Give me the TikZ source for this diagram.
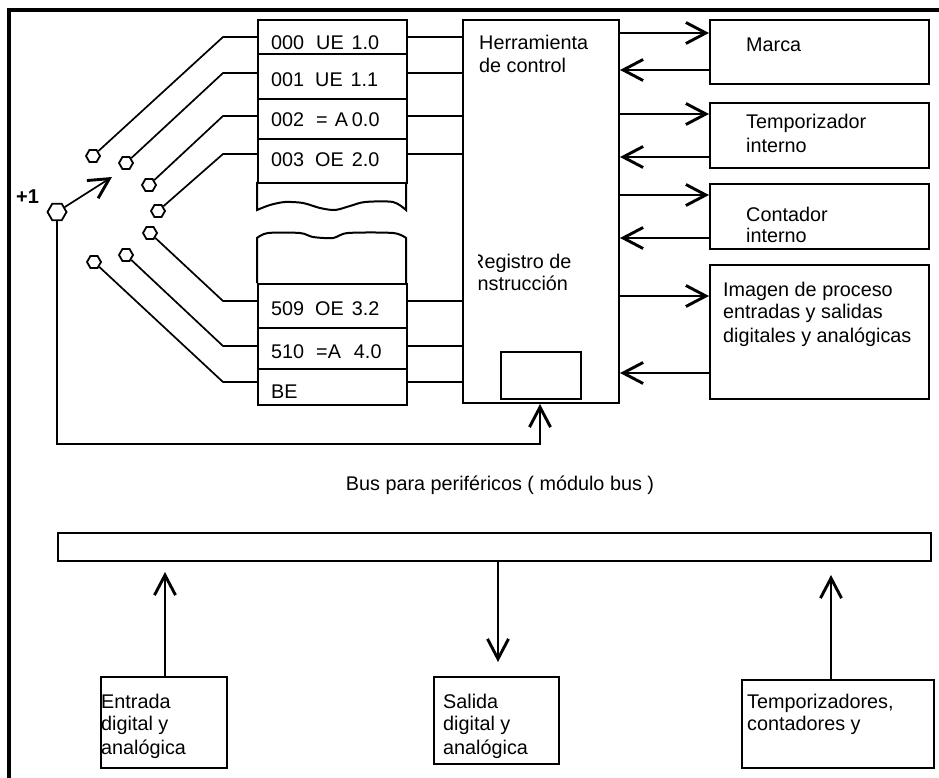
\documentclass[tikz,border=0pt]{standalone}
\usepackage{fontspec}
\setmainfont{Liberation Sans}
\usetikzlibrary{arrows.meta,shapes.geometric}
\tikzset{
  box/.style={draw, line width=2pt, rectangle, inner sep=0pt, anchor=north west},
  wire/.style={line width=1.7pt},
  barb/.style={-{Straight Barb[length=20pt,width=21pt,line width=2.9pt]}},
  txt/.style={anchor=base west, inner sep=0pt, font=\fontsize{19.8}{23}\selectfont},
  contact/.style={draw, line width=1.8pt, regular polygon, regular polygon sides=6, minimum size=14pt, inner sep=0pt, fill=white},
}
\begin{document}
\begin{tikzpicture}[x=1pt,y=-1pt]
\useasboundingbox (0,0) rectangle (939,778);
% frame
\draw[line width=3.5pt] (9,778) -- (9,10) -- (939,10);
% memory rows
\node[box, minimum width=149pt, minimum height=34pt] (r0) at (257,19) {};
\node[box, minimum width=149pt, minimum height=45pt] (r1) at (257,53) {};
\node[box, minimum width=149pt, minimum height=40pt] (r2) at (257,98) {};
\node[box, minimum width=149pt, minimum height=44pt] (r3) at (257,138) {};
\node[box, minimum width=149pt, minimum height=44pt] (r509) at (257,283) {};
\node[box, minimum width=149pt, minimum height=41pt] (r510) at (257,327) {};
\node[box, minimum width=149pt, minimum height=36pt] (rBE) at (257,368) {};
\draw[line width=2pt] (257,182) -- plot[smooth] coordinates {(257,210) (270,205) (285,202) (303,203) (320,208) (335,210) (350,206) (365,202) (393,202) (406,210)} -- (406,182);
\draw[line width=2pt] (257,283) -- plot[smooth] coordinates {(257,238) (268,233) (300,233) (313,237) (333,238) (348,233) (393,233) (406,238)} -- (406,283);
% row texts
\node[txt] (t0) at (271,50) {000\hspace{12pt}UE\hspace{8pt}1.0};
\node[txt] (t1) at (271,87) {001\hspace{11pt}UE\hspace{8pt}1.1};
\node[txt] (t2) at (271,127) {002\hspace{12pt}=\hspace{7pt}A\hspace{4pt}0.0};
\node[txt] (t3) at (271,167) {003\hspace{11pt}OE\hspace{8pt}2.0};
\node[txt] (t509) at (271,315) {509\hspace{11pt}OE\hspace{8pt}3.2};
\node[txt] (t510) at (271,358) {510\hspace{12pt}=A\hspace{13pt}4.0};
\node[txt] (tBE) at (271,398) {BE};
% control unit
\node[box, minimum width=156pt, minimum height=383pt] (cpu) at (462,19) {};
\node[box, minimum width=80pt, minimum height=47pt] (reg) at (500,351) {};
\node[txt] (th1) at (479,50) {Herramienta};
\node[txt] (th2) at (479,73) {de control};
\begin{scope}
\clip (478,240) rectangle (617,300);
\node[txt] (tr1) at (470,268) {Registro de};
\node[txt] (tr2) at (472,290) {Instrucción};
\end{scope}
% right boxes
\node[box, minimum width=219pt, minimum height=64pt] (marca) at (709,19) {};
\node[box, minimum width=219pt, minimum height=65pt] (temp) at (709,102) {};
\node[box, minimum width=219pt, minimum height=65pt] (cont) at (709,183) {};
\node[box, minimum width=219pt, minimum height=134pt] (img) at (709,264) {};
\node[txt] (tm) at (746,52) {Marca};
\node[txt] (tt1) at (746,129) {Temporizador};
\node[txt] (tt2) at (746,153) {interno};
\node[txt] (tc1) at (746,221) {Contador};
\node[txt] (tc2) at (746,242) {interno};
\node[txt] (ti1) at (723,296) {Imagen de proceso};
\node[txt] (ti2) at (723,318) {entradas y salidas};
\node[txt] (ti3) at (723,342) {digitales y analógicas};
% arrows cpu <-> right boxes
\foreach \b/\yo/\yi in {marca/33/70, temp/114/157, cont/195/238, img/296/373}{
  \coordinate (o\b) at (660,\yo);
  \coordinate (i\b) at (660,\yi);
  \draw[wire,barb] (cpu.east |- o\b) -- (\b.west |- o\b);
  \draw[wire,barb] (\b.west |- i\b) -- (cpu.east |- i\b);
}
% contacts
\node[contact] (c0) at (93,156) {};
\node[contact] (c1) at (126,163) {};
\node[contact] (c2) at (149,185) {};
\node[contact] (c3) at (158,211) {};
\node[contact] (c4) at (150,233) {};
\node[contact] (c5) at (126,255) {};
\node[contact] (c6) at (94,262) {};
\node[contact, minimum size=19pt] (plus) at (57,212) {};
\node[anchor=base west, inner sep=0pt, font=\fontsize{20}{22}\selectfont\bfseries] (tplus) at (16,204) {+1};
\coordinate (ptip) at (112,177);
\draw[wire,barb] (plus) -- (ptip);
\foreach \r/\c/\y in {r0/c0/37, r1/c1/73, r2/c2/116, r3/c3/154, r509/c4/301, r510/c5/346, rBE/c6/382}{
  \coordinate (b\r) at (223,\y);
  \draw[wire] (\c) -- (b\r) -- (\r.west |- b\r);
  \draw[wire] (\r.east |- b\r) -- (cpu.west |- b\r);
}
% feedback line
\coordinate (fb) at (540,444);
\draw[wire,barb] (plus.south) |- (fb) -- (fb |- cpu.south);
% bus
\node[anchor=base, inner sep=0pt, font=\fontsize{19.8}{23}\selectfont] (tbus) at (500,490) {Bus para periféricos ( módulo bus )};
\node[box, minimum width=873pt, minimum height=28pt] (bus) at (57,532) {};
\node[box, minimum width=126pt, minimum height=91pt] (ent) at (100,676) {};
\node[box, minimum width=125pt, minimum height=87pt] (sal) at (433,676) {};
\node[box, minimum width=192pt, minimum height=88pt] (tmp) at (741,679) {};
\node[txt] (te1) at (101,708) {Entrada};
\node[txt] (te2) at (101,730) {digital y};
\node[txt] (te3) at (101,754) {analógica};
\node[txt] (ts1) at (443,708) {Salida};
\node[txt] (ts2) at (443,730) {digital y};
\node[txt] (ts3) at (443,754) {analógica};
\node[txt] (tz1) at (747,708) {Temporizadores,};
\node[txt] (tz2) at (747,730) {contadores y};
\coordinate (a1) at (165,572);
\coordinate (a2) at (498,662);
\coordinate (a3) at (831,575);
\draw[wire,barb] (ent.north -| a1) -- (a1);
\draw[wire,barb] (bus.south -| a2) -- (a2);
\draw[wire,barb] (tmp.north -| a3) -- (a3);
\end{tikzpicture}
\end{document}
